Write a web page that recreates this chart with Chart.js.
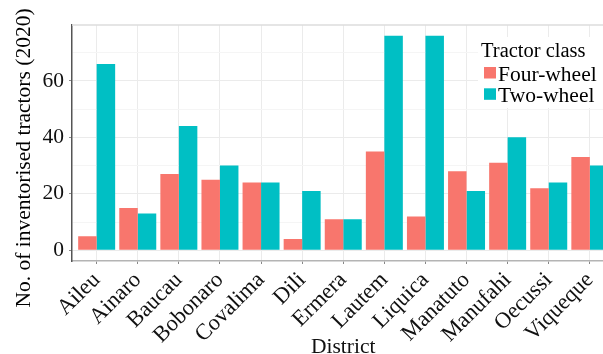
<!DOCTYPE html>
<html>
<head>
<meta charset="utf-8">
<script src="https://cdn.jsdelivr.net/npm/chart.js@4"></script>
<style>
  html, body { margin: 0; padding: 0; background: #fff; overflow: hidden; }
  #wrap { position: relative; width: 616px; height: 354px; }
</style>
</head>
<body>
<div id="wrap"><canvas id="chart"></canvas></div>
<script>
// District tractor inventory, 2020
const districts = ["Aileu", "Ainaro", "Baucau", "Bobonaro", "Covalima", "Dili", "Ermera",
                   "Lautem", "Liquica", "Manatuto", "Manufahi", "Oecussi", "Viqueque"];
const fourWheel = [5, 15, 27, 25, 24, 4, 11, 35, 12, 28, 31, 22, 33];
const twoWheel  = [66, 13, 44, 30, 24, 21, 11, 76, 76, 21, 40, 24, 30];
const seriesNames = ["Four-wheel", "Two-wheel"];
const seriesColors = ["#F8766D", "#00BFC4"];
const legendTitle = "Tractor class";
const yTitle = "No. of inventorised tractors (2020)";
const xTitle = "District";

const serif = "'Liberation Serif', 'DejaVu Serif', serif";

// y axis title is drawn by hand so it can sit where the original has it
const yTitlePlugin = {
    id: "yTitle",
    afterDraw(chart) {
        const ctx = chart.ctx;
        ctx.save();
        ctx.translate(24, 158);
        ctx.rotate(-Math.PI / 2);
        ctx.font = "21.5px " + serif;
        ctx.fillStyle = "#000";
        ctx.textAlign = "center";
        ctx.textBaseline = "middle";
        ctx.fillText(yTitle, 0, 0);
        ctx.restore();
    }
};

// top border of the panel
const panelBorder = {
    id: "panelBorder",
    beforeDatasetsDraw(chart) {
        const { ctx, chartArea } = chart;
        ctx.save();
        ctx.strokeStyle = "#dcdcdc";
        ctx.lineWidth = 1.5;
        ctx.beginPath();
        ctx.moveTo(chartArea.left, chartArea.top);
        ctx.lineTo(chartArea.right, chartArea.top);
        ctx.stroke();
        ctx.restore();
    }
};

// legend inside the panel, top right
const insideLegend = {
    id: "insideLegend",
    afterDraw(chart) {
        const ctx = chart.ctx;
        ctx.save();
        ctx.fillStyle = "#fff";
        ctx.fillRect(478, 37, 140, 71);
        ctx.fillStyle = "#000";
        ctx.textBaseline = "alphabetic";
        ctx.textAlign = "left";
        ctx.font = "20.5px " + serif;
        ctx.fillText(legendTitle, 481, 57);
        ctx.font = "21.5px " + serif;
        chart.data.datasets.forEach((ds, i) => {
            const y = 81 + i * 21.3;
            ctx.fillStyle = ds.backgroundColor;
            ctx.fillRect(484, y - 14, 12, 11.5);
            ctx.fillStyle = "#000";
            ctx.fillText(ds.label, 498, y);
        });
        ctx.restore();
    }
};

new Chart(document.getElementById("chart"), {
    type: "bar",
    data: {
        labels: districts,
        datasets: [
            { label: seriesNames[0], data: fourWheel, backgroundColor: seriesColors[0] },
            { label: seriesNames[1], data: twoWheel, backgroundColor: seriesColors[1] }
        ]
    },
    options: {
        responsive: true,
        maintainAspectRatio: false,
        animation: false,
        devicePixelRatio: 1,
        layout: { padding: { top: 25, right: 1.5, left: 0, bottom: 0 } },
        datasets: { bar: { categoryPercentage: 0.9, barPercentage: 1.0 } },
        plugins: { legend: { display: false }, tooltip: { enabled: false } },
        scales: {
            x: {
                offset: true,
                grid: { offset: false, color: "#ebebeb", lineWidth: 1, tickLength: 3, tickColor: "#888" },
                border: { color: "#b4b4b4", width: 1.5 },
                ticks: {
                    autoSkip: false, minRotation: 45, maxRotation: 45, padding: 3,
                    color: "#111", font: { family: serif, size: 22.5 }
                },
                title: {
                    display: true, text: xTitle, color: "#111",
                    font: { family: serif, size: 21.5, lineHeight: 1 }, padding: { top: 0, bottom: -4 }
                },
                // ggplot style discrete expansion: 0.6 of a category on each side
                afterBuildTicks: s => {
                    s._startValue = -0.6;
                    s._valueRange = s.ticks.length - 1 + 1.2;
                },
                afterFit: s => { s.height = 93; }
            },
            y: {
                min: -3.8,
                max: 79.8,
                grid: {
                    color: c => (c.tick && c.tick.value % 20 === 0) ? "#ebebeb" : "#f5f5f5",
                    tickColor: c => (c.tick && c.tick.value % 20 === 0) ? "#888" : "rgba(0,0,0,0)",
                    tickLength: 3
                },
                border: { color: "#555", width: 1.5 },
                ticks: {
                    stepSize: 10, includeBounds: false, padding: 5,
                    color: "#111", font: { family: serif, size: 21.5 },
                    callback: v => v % 20 === 0 ? v : ""
                },
                afterFit: s => { s.width = 72; }
            }
        }
    },
    plugins: [panelBorder, insideLegend, yTitlePlugin]
});
</script>
</body>
</html>
